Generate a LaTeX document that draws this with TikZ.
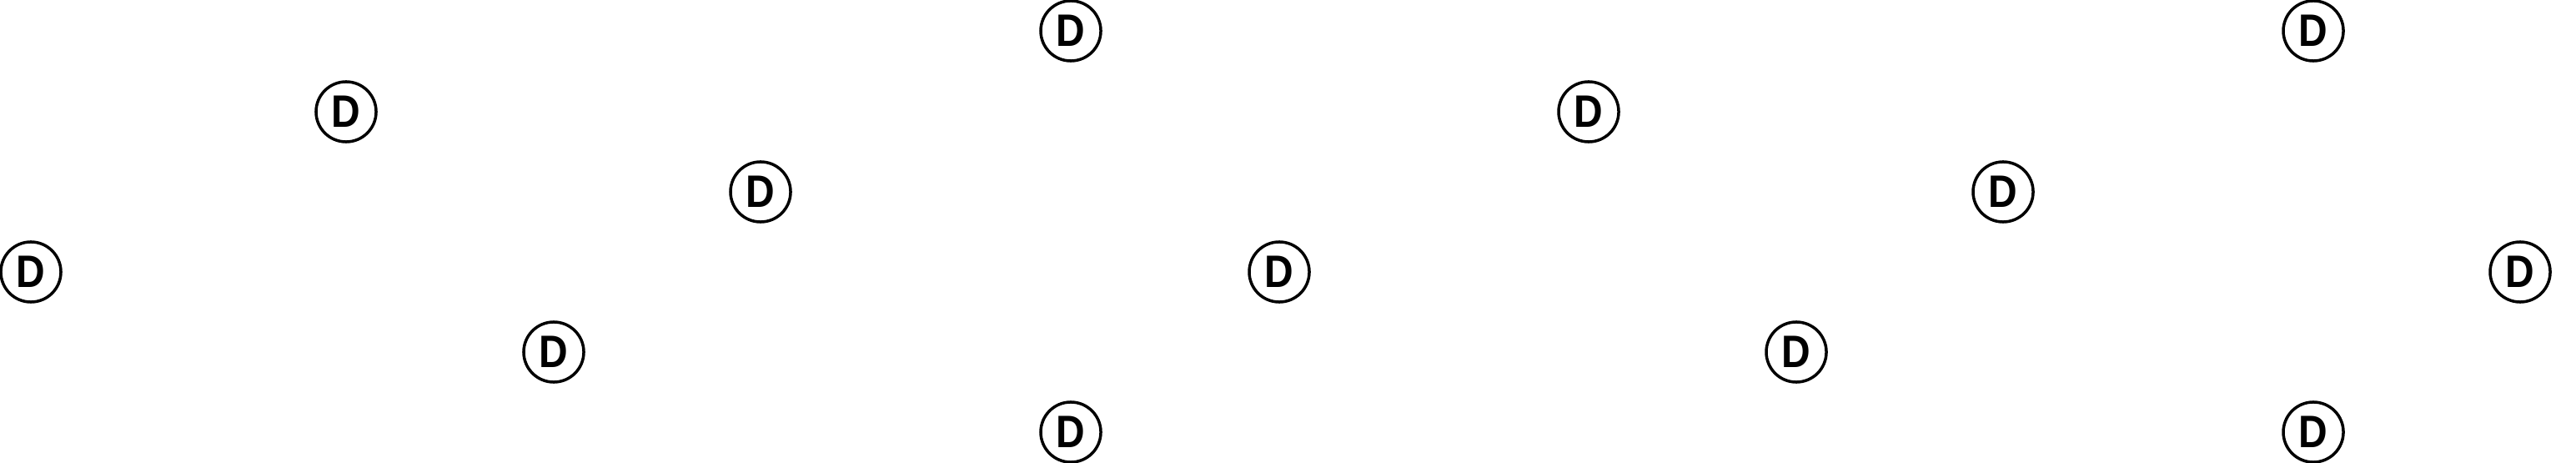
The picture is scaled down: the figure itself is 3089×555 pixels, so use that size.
\documentclass[tikz,border=0pt]{standalone}
\usepackage{fontspec}
\setmainfont{Liberation Sans}
\newcommand{\dlabel}{\scalebox{0.88}[1]{D}}
\begin{document}
\begin{tikzpicture}[x=0.01cm,y=-0.01cm,
  dnode/.style={circle,draw=black,line width=0.035cm,minimum size=0.72cm,inner sep=0pt,
    font=\fontsize{15.5}{15.5}\selectfont\bfseries}]
\useasboundingbox (0,0) rectangle (3089,555);
\node[dnode] (d1) at (37,326) {\dlabel};
\node[dnode] (d2) at (415,134) {\dlabel};
\node[dnode] (d3) at (664,422) {\dlabel};
\node[dnode] (d4) at (912,230) {\dlabel};
\node[dnode] (d5) at (1284,37) {\dlabel};
\node[dnode] (d6) at (1284,518) {\dlabel};
\node[dnode] (d7) at (1534,326) {\dlabel};
\node[dnode] (d8) at (1905,134) {\dlabel};
\node[dnode] (d9) at (2154,422) {\dlabel};
\node[dnode] (d10) at (2402,230) {\dlabel};
\node[dnode] (d11) at (2774,37) {\dlabel};
\node[dnode] (d12) at (2774,518) {\dlabel};
\node[dnode] (d13) at (3022,326) {\dlabel};
\end{tikzpicture}
\end{document}
